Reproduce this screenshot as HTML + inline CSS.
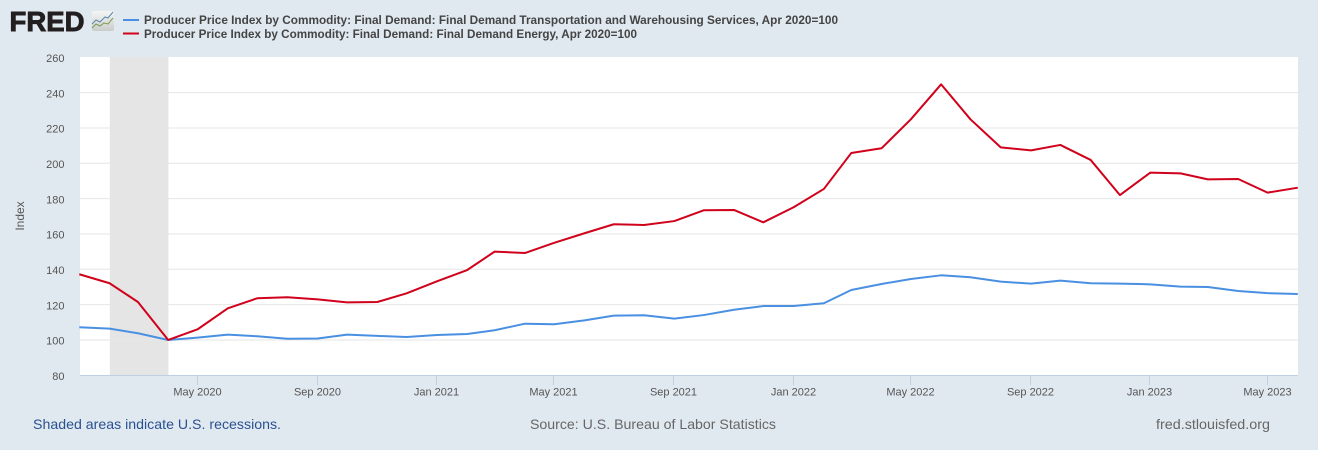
<!DOCTYPE html>
<html lang="en">
<head>
<meta charset="utf-8">
<title>Producer Price Index: Final Demand Transportation and Energy</title>
<style>
  html, body { margin: 0; padding: 0; background: #e1e9f0; }
  body { width: 1318px; height: 450px; overflow: hidden; position: relative; }
  svg { display: block; font-family: "Liberation Sans", Arial, sans-serif; }
</style>
</head>
<body>
<svg id="chart" width="1318" height="450" viewBox="0 0 1318 450" xmlns="http://www.w3.org/2000/svg">
  <defs>
    <linearGradient id="iconBg" x1="0" y1="0" x2="0" y2="1">
      <stop offset="0" stop-color="#f4f6f6"/>
      <stop offset="1" stop-color="#c9cdca"/>
    </linearGradient>
  </defs>
  <rect x="0" y="0" width="1318" height="450" fill="#e1e9f0"/>

  <g>
    <text x="9.5" y="31" font-size="28" font-weight="700" fill="#231f20" stroke="#231f20" stroke-width="0.9" textLength="75" lengthAdjust="spacingAndGlyphs">FRED</text>
    <rect x="92" y="11" width="22" height="20" rx="2" fill="url(#iconBg)"/>
    <polyline points="92,24 96,20 100,22 105,17 108,18 113,12" fill="none" stroke="#5b88a8" stroke-width="1"/>
    <polyline points="92,28 96,24 100,26 104,23 108,24 113,18" fill="none" stroke="#7c9a4f" stroke-width="1"/>
  </g>

  <g>
    <line x1="123" x2="139" y1="20" y2="20" stroke="#4a90e2" stroke-width="2"/>
    <text x="144" y="24" font-size="12" font-weight="700" fill="#444" textLength="694" lengthAdjust="spacingAndGlyphs">Producer Price Index by Commodity: Final Demand: Final Demand Transportation and Warehousing Services, Apr 2020=100</text>
    <line x1="123" x2="139" y1="33.5" y2="33.5" stroke="#d0021b" stroke-width="2"/>
    <text x="144" y="38" font-size="12" font-weight="700" fill="#444" textLength="493" lengthAdjust="spacingAndGlyphs">Producer Price Index by Commodity: Final Demand: Final Demand Energy, Apr 2020=100</text>
  </g>

  <rect x="80" y="57" width="1218" height="318.5" fill="#ffffff"/>
  <g id="recessions"></g>
  <g id="grid"></g>
  <g id="xaxis"></g>
  <g id="yaxis"></g>
  <g id="series"></g>

  <text transform="translate(24,216) rotate(-90)" text-anchor="middle" font-size="12" fill="#555">Index</text>

  <text x="33" y="429" font-size="14" fill="#2a5191" textLength="248" lengthAdjust="spacingAndGlyphs">Shaded areas indicate U.S. recessions.</text>
  <text x="530" y="429" font-size="14" fill="#666" textLength="246" lengthAdjust="spacingAndGlyphs">Source: U.S. Bureau of Labor Statistics</text>
  <text x="1156" y="429" font-size="14" fill="#666" textLength="114" lengthAdjust="spacingAndGlyphs">fred.stlouisfed.org</text>
</svg>

<script>
var months = ["2020-01","2020-02","2020-03","2020-04","2020-05","2020-06","2020-07","2020-08","2020-09","2020-10","2020-11","2020-12",
  "2021-01","2021-02","2021-03","2021-04","2021-05","2021-06","2021-07","2021-08","2021-09","2021-10","2021-11","2021-12",
  "2022-01","2022-02","2022-03","2022-04","2022-05","2022-06","2022-07","2022-08","2022-09","2022-10","2022-11","2022-12",
  "2023-01","2023-02","2023-03","2023-04","2023-05","2023-06"];
var transportationValues = [107.2,106.4,103.8,100,101.3,103,102.1,100.7,100.8,103,102.3,101.7,
  102.8,103.4,105.5,109.2,108.9,111.1,113.8,114,112.1,114.1,117.1,119.2,
  119.2,120.8,128.3,131.7,134.5,136.6,135.5,133,131.9,133.6,132.1,131.9,
  131.5,130.2,130,127.7,126.5,126];
var energyValues = [137.2,132.1,121.5,100,106,117.9,123.6,124.2,123,121.3,121.5,126.4,
  133.2,139.6,150,149.2,155,160.4,165.5,165.1,167.3,173.4,173.6,166.6,
  175.1,185.5,205.8,208.5,224.9,244.7,224.9,209,207.3,210.4,201.9,182,
  194.7,194.3,190.9,191.1,183.4,186.2];
var yTickValues = [80,100,120,140,160,180,200,220,240,260];
var xTickMonths = ["2020-05","2020-09","2021-01","2021-05","2021-09","2022-01","2022-05","2022-09","2023-01","2023-05"];
var xTickLabels = ["May 2020","Sep 2020","Jan 2021","May 2021","Sep 2021","Jan 2022","May 2022","Sep 2022","Jan 2023","May 2023"];
var recessionStart = ["2020-02"];
var recessionEnd = ["2020-04"];

var NS = "http://www.w3.org/2000/svg";
var plotLeft = 80, plotRight = 1298;

function dayOf(month) {
  var parts = month.split("-");
  return Date.UTC(+parts[0], +parts[1] - 1, 1) / 86400000;
}
var firstDay = dayOf(months[0]);
var lastDay = dayOf(months[months.length - 1]);

function xScale(month) {
  return 79.3 + (dayOf(month) - firstDay) * (1297.8 - 79.3) / (lastDay - firstDay);
}
function yScale(v) {
  return 375.3 - (v - 80) * (375.3 - 57.3) / 180;
}
function make(tag, attrs, parent) {
  var el = document.createElementNS(NS, tag);
  for (var k in attrs) { el.setAttribute(k, attrs[k]); }
  parent.appendChild(el);
  return el;
}

var recessionsGroup = document.getElementById("recessions");
recessionStart.forEach(function (start, i) {
  var band = make("rect", {
    x: xScale(start) + 0.2,
    y: 57,
    width: xScale(recessionEnd[i]) - xScale(start),
    height: 318.5,
    fill: "#e5e5e5"
  }, recessionsGroup);
  
  
});

var gridGroup = document.getElementById("grid");
var yAxisGroup = document.getElementById("yaxis");
yTickValues.forEach(function (v) {
  var y = yScale(v);
  if (v > 80 && v < 260) {
    var line = make("line", { x1: plotLeft, x2: plotRight, y1: y, y2: y, stroke: "#e6e6e6", "stroke-width": 1 }, gridGroup);
    
    
  }
  var label = make("text", { x: 64.5, y: y + 4.7, "text-anchor": "end", "font-size": 11, fill: "#555" }, yAxisGroup);
  
  
  label.textContent = String(v);
});

var xAxisGroup = document.getElementById("xaxis");
var axisLine = make("line", { x1: plotLeft, x2: plotRight, y1: 375.5, y2: 375.5, stroke: "#c0d0e0", "stroke-width": 1 }, xAxisGroup);


xTickMonths.forEach(function (m, i) {
  var x = Math.round(xScale(m)) - 0.5;
  var tick = make("line", { x1: x, x2: x, y1: 375.5, y2: 385, stroke: "#c0d0e0", "stroke-width": 1 }, xAxisGroup);
  
  
  var label = make("text", { x: x, y: 395.5, "text-anchor": "middle", "font-size": 11, fill: "#555" }, xAxisGroup);
  
  
  label.textContent = xTickLabels[i];
});

function pointsFor(values) {
  return values.map(function (v, i) {
    return xScale(months[i]).toFixed(2) + "," + yScale(v).toFixed(2);
  }).join(" ");
}
var seriesGroup = document.getElementById("series");
var transportationLine = make("polyline", { points: pointsFor(transportationValues), fill: "none", stroke: "#4a90e2", "stroke-width": 2, "stroke-linejoin": "round" }, seriesGroup);


var energyLine = make("polyline", { points: pointsFor(energyValues), fill: "none", stroke: "#d0021b", "stroke-width": 2, "stroke-linejoin": "round" }, seriesGroup);


</script>
</body>
</html>
